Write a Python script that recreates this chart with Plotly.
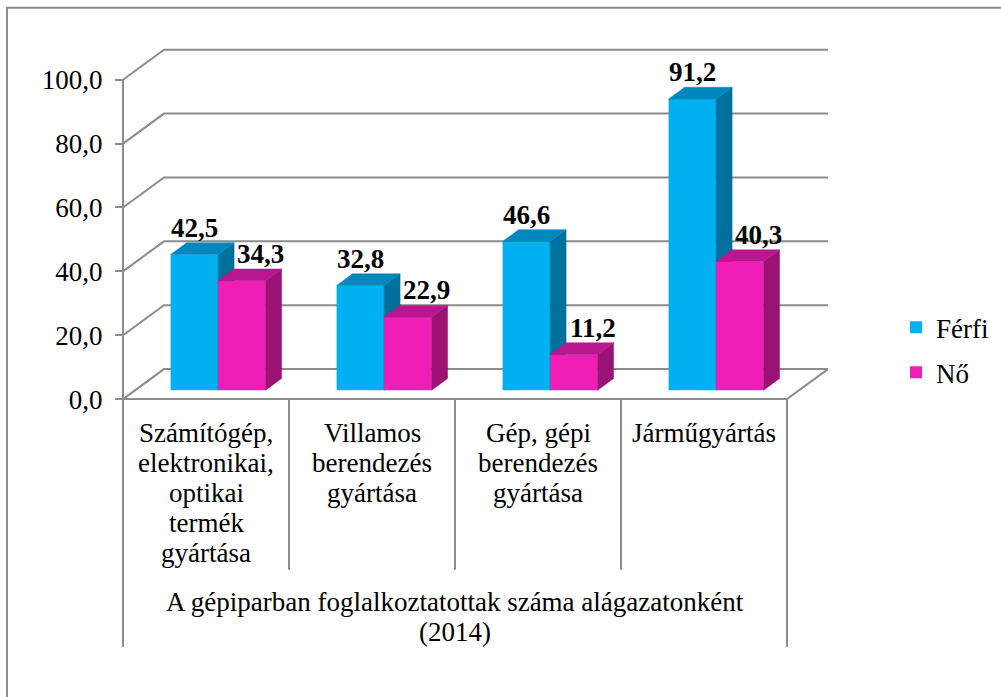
import plotly.graph_objects as go

# ---------------- data ----------------
CATEGORIES = [
    ["Számítógép,", "elektronikai,", "optikai", "termék", "gyártása"],
    ["Villamos", "berendezés", "gyártása"],
    ["Gép, gépi", "berendezés", "gyártása"],
    ["Járműgyártás"],
]
GROUP_TITLE = ["A gépiparban foglalkoztatottak száma alágazatonként", "(2014)"]
SERIES_NAMES = ["Férfi", "Nő"]
FERFI = [42.5, 32.8, 46.6, 91.2]
NO = [34.3, 22.9, 11.2, 40.3]
Y_TICKS = [0, 20, 40, 60, 80, 100]

# ---------------- styling / geometry ----------------
FRONT_COL = ["#00B0F0", "#F01EB6"]
TOP_COL = ["#0088BE", "#BA168F"]
SIDE_COL = ["#00709D", "#9B1275"]
GRID_COL = "#8C8C8C"
FONT = '"Liberation Serif", "Times New Roman", Times, serif'
FS = 27

W, H = 1001, 697
X0, CAT_W = 123.0, 166.0        # front-left x (px), px per category
Y0, UNIT = 405.5, 3.245         # px of value 0 on front plane, px per unit
DEPTH_X_PX, DEPTH_Y_PX = 41.0, 30.5
DX = DEPTH_X_PX / CAT_W
DY = DEPTH_Y_PX / UNIT
BAR_FRONT = 0.295               # depth fraction of bar front face
BAR_DEPTH = 0.39                # depth fraction taken by bar
BAR_W = 0.286                   # bar width in category units
PAD = 4.0
LINE_PX = 30.5                  # line spacing of axis label text

n = len(CATEGORIES)
ymax = Y_TICKS[-1]


def px_x(u):
    return X0 + u * CAT_W


def px_y(v):
    return Y0 - v * UNIT


def fx(p):
    return p / W


def fy(p):
    return 1 - p / H


xr = [-PAD / CAT_W, n + DX + PAD / CAT_W]
yr = [-PAD / UNIT, ymax + DY + PAD / UNIT]
xdom = [fx(px_x(xr[0])), fx(px_x(xr[1]))]
ydom = [fy(px_y(yr[0])), fy(px_y(yr[1]))]

fig = go.Figure()

# ---- walls: gridlines with depth connectors, floor, front axis line ----
gx, gy = [], []
for v in Y_TICKS:
    gx += [0, DX, n + DX, None]
    gy += [v, v + DY, v + DY, None]
gx += [0, n, n + DX, None]
gy += [0, 0, DY, None]
gx += [0, 0, None]
gy += [0, ymax, None]
fig.add_trace(go.Scatter(x=gx, y=gy, mode="lines",
                         line=dict(color=GRID_COL, width=2),
                         hoverinfo="skip", showlegend=False,
                         xaxis="x", yaxis="y"))

# ---- bars ----
annotations = []
for s, (name, vals) in enumerate(zip(SERIES_NAMES, [FERFI, NO])):
    xa = "x%d" % (s + 2)
    ya = "y%d" % (s + 2)
    off = -BAR_W if s == 0 else 0.0
    base = BAR_FRONT * DY
    bdx, bdy = BAR_DEPTH * DX, BAR_DEPTH * DY
    centers = [i + 0.5 + BAR_FRONT * DX for i in range(n)]
    fig.add_trace(go.Bar(
        x=centers, y=vals, base=[base] * n, width=[BAR_W] * n,
        offset=[off] * n, name=name, marker=dict(color=FRONT_COL[s], line=dict(width=0)),
        legendgroup=name, xaxis=xa, yaxis=ya, hoverinfo="skip"))
    tx, ty, sx, sy = [], [], [], []
    for c, v in zip(centers, vals):
        xl = c + off
        xrr = xl + BAR_W
        t = base + v
        tx += [xl, xrr, xrr + bdx, xl + bdx, xl, None]
        ty += [t, t, t + bdy, t + bdy, t, None]
        sx += [xrr, xrr + bdx, xrr + bdx, xrr, xrr, None]
        sy += [base, base + bdy, t + bdy, t, base, None]
        annotations.append(dict(
            x=xl + BAR_W / 2, y=t + bdy, xref="x", yref="y",
            text="<b>" + ("%.1f" % v).replace(".", ",") + "</b>", showarrow=False,
            yanchor="bottom", xanchor="center", yshift=-2,
            xshift=0 if s == 0 else 19,
            font=dict(family=FONT, size=FS, color="black")))
    fig.add_trace(go.Scatter(x=sx, y=sy, mode="lines", fill="toself",
                             fillcolor=SIDE_COL[s],
                             line=dict(color=SIDE_COL[s], width=0.5),
                             hoverinfo="skip", showlegend=False,
                             xaxis=xa, yaxis=ya))
    fig.add_trace(go.Scatter(x=tx, y=ty, mode="lines", fill="toself",
                             fillcolor=TOP_COL[s],
                             line=dict(color=TOP_COL[s], width=0.5),
                             hoverinfo="skip", showlegend=False,
                             xaxis=xa, yaxis=ya))

# ---- category labels and group title ----
for i, lines in enumerate(CATEGORIES):
    for j, ln in enumerate(lines):
        annotations.append(dict(
            x=i + 0.5, y=fy(440 + j * LINE_PX), xref="x", yref="paper", text=ln,
            showarrow=False, xanchor="center", yanchor="middle",
            font=dict(family=FONT, size=FS, color="black")))
for j, ln in enumerate(GROUP_TITLE):
    annotations.append(dict(
        x=n / 2, y=fy(612 + j * LINE_PX), xref="x", yref="paper", text=ln,
        showarrow=False, xanchor="center", yanchor="middle",
        font=dict(family=FONT, size=FS, color="black")))

shapes = []
for k in range(n + 1):
    bottom = 657 if k in (0, n) else 579
    shapes.append(dict(type="line", xref="x", yref="paper",
                       x0=k, x1=k, y0=fy(Y0), y1=fy(bottom),
                       line=dict(color=GRID_COL, width=2)))
shapes.append(dict(type="rect", xref="paper", yref="paper",
                   x0=fx(7), x1=1.05, y0=fy(8), y1=-0.05,
                   line=dict(color=GRID_COL, width=2)))

axis_hidden = dict(visible=False, fixedrange=True)
layout_axes = dict(
    xaxis=dict(domain=xdom, range=xr, **axis_hidden),
    yaxis=dict(domain=ydom, range=yr, anchor="free", position=fx(X0),
               showgrid=False, zeroline=False, showline=False,
               tickvals=Y_TICKS, tickformat=".1f", ticks="outside",
               ticklen=8, tickwidth=2, tickcolor=GRID_COL,
               ticklabelstandoff=7,
               tickfont=dict(family=FONT, size=FS, color="black"),
               fixedrange=True),
)
for s in range(2):
    k = s + 2
    layout_axes["xaxis%d" % k] = dict(domain=xdom, range=xr, overlaying="x",
                                      anchor="y%d" % k, **axis_hidden)
    layout_axes["yaxis%d" % k] = dict(domain=ydom, range=yr, overlaying="y",
                                      anchor="x%d" % k, **axis_hidden)

fig.update_layout(
    width=W, height=H,
    margin=dict(l=0, r=0, t=0, b=0),
    paper_bgcolor="white", plot_bgcolor="rgba(0,0,0,0)",
    separators=",.",
    barmode="overlay",
    showlegend=True,
    hovermode=False,
    font=dict(family=FONT, color="black"),
    legend=dict(x=fx(896), y=fy(308), xanchor="left", yanchor="top",
                traceorder="grouped", tracegroupgap=7,
                font=dict(family=FONT, size=FS, color="black"),
                bgcolor="rgba(0,0,0,0)"),
    annotations=annotations,
    shapes=shapes,
    **layout_axes,
)

fig.write_html(
    "out.html",
    config={"displayModeBar": False},
    post_script="document.body.style.margin='0';document.body.style.overflow='hidden';",
)
